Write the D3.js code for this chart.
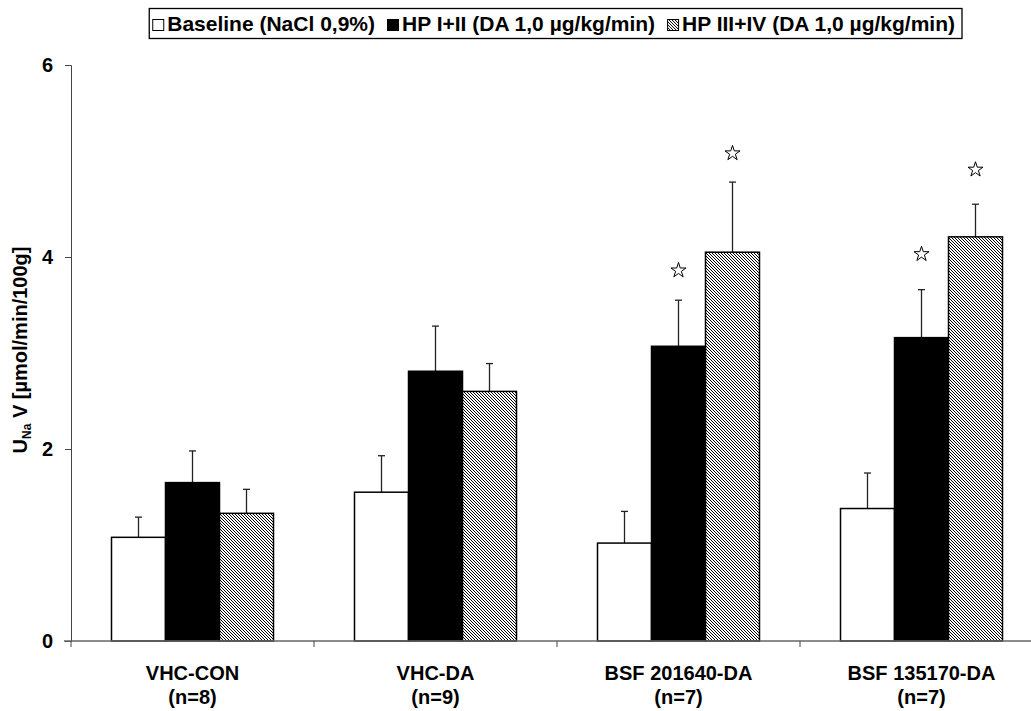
<!DOCTYPE html>
<html>
<head>
<meta charset="utf-8">
<script src="https://cdn.jsdelivr.net/npm/d3@7"></script>
<style>
  body { margin: 0; background: #fff; }
  text { font-family: "Liberation Sans", Arial, sans-serif; font-weight: bold; }
</style>
</head>
<body>
<svg id="chart" width="1031" height="711"></svg>
<script>
// data
const groups = ["VHC-CON", "VHC-DA", "BSF 201640-DA", "BSF 135170-DA"];
const groupN = ["(n=8)", "(n=9)", "(n=7)", "(n=7)"];
const seriesNames = ["Baseline (NaCl 0,9%)", "HP I+II (DA 1,0 µg/kg/min)", "HP III+IV (DA 1,0 µg/kg/min)"];
const baseline = [1.08, 1.55, 1.02, 1.38];
const hp12 = [1.65, 2.81, 3.07, 3.16];
const hp34 = [1.33, 2.60, 4.05, 4.21];
const errBaseline = [0.21, 0.38, 0.33, 0.37];
const errHp12 = [0.33, 0.47, 0.48, 0.50];
const errHp34 = [0.25, 0.29, 0.73, 0.34];
// significance stars: [group, series, y]
const stars = [[2, 1, 3.86], [2, 2, 5.08], [3, 1, 4.03], [3, 2, 4.91]];
const yTicks = [0, 2, 4, 6];

const FS = 20;

const svg = d3.select("#chart");
const defs = svg.append("defs");
const pat = defs.append("pattern")
  .attr("id", "hatch").attr("patternUnits", "userSpaceOnUse")
  .attr("width", 3).attr("height", 3);
pat.append("rect").attr("width", 3).attr("height", 3).attr("fill", "#fff");
[[0,0],[1,1],[2,2]].forEach(p => {
  pat.append("rect").attr("x", p[0]).attr("y", p[1]).attr("width", 1).attr("height", 1)
    .attr("fill", "#000").attr("shape-rendering", "crispEdges");
});

const fills = ["#fff", "#000", "url(#hatch)"];

const x = d3.scaleBand().domain(groups).range([71, 1043]);
const xs = d3.scaleBand().domain([0, 1, 2])
  .range([0, x.bandwidth()]).paddingOuter(0.75).paddingInner(0);
const y = d3.scaleLinear().domain([0, 6]).range([641, 65]);

const values = [baseline, hp12, hp34];
const errs = [errBaseline, errHp12, errHp34];

const rows = [];
groups.forEach((g, gi) => {
  values.forEach((v, si) => rows.push({g, si, v: v[gi], e: errs[si][gi]}));
});

const g = svg.append("g");
const cx = d => x(d.g) + xs(d.si) + xs.bandwidth() / 2;

// error bars (upper only)
const eb = g.selectAll(".err").data(rows).join("g").attr("class", "err");
eb.append("line")
  .attr("x1", cx).attr("x2", cx)
  .attr("y1", d => y(d.v)).attr("y2", d => y(d.v + d.e))
  .attr("stroke", "#222").attr("stroke-width", 1.3);
eb.append("line")
  .attr("x1", d => cx(d) - 3.5).attr("x2", d => cx(d) + 3.5)
  .attr("y1", d => y(d.v + d.e)).attr("y2", d => y(d.v + d.e))
  .attr("stroke", "#222").attr("stroke-width", 1.3);

g.selectAll(".bar").data(rows).join("rect")
  .attr("class", "bar")
  .attr("x", d => x(d.g) + xs(d.si))
  .attr("width", xs.bandwidth())
  .attr("y", d => y(d.v))
  .attr("height", d => y(0) - y(d.v))
  .attr("fill", d => fills[d.si])
  .attr("stroke", "#000").attr("stroke-width", 1.5);

// stars
g.selectAll(".star").data(stars).join("path")
  .attr("class", "star")
  .attr("transform", d => `translate(${x(groups[d[0]]) + xs(d[1]) + xs.bandwidth() / 2},${y(d[2])})`)
  .attr("d", d3.symbol(d3.symbolStar, 70))
  .attr("fill", "#fff").attr("stroke", "#000").attr("stroke-width", 1);

// axes
const yAxis = svg.append("g").attr("transform", "translate(71,0)")
  .call(d3.axisLeft(y).tickValues(yTicks).tickSize(6).tickPadding(12).tickFormat(d3.format("d")));
yAxis.select(".domain").attr("stroke", "#444");
yAxis.selectAll(".tick line").attr("stroke", "#444");
yAxis.selectAll("text").attr("font-size", FS).attr("fill", "#000");

const xAxis = svg.append("g").attr("transform", "translate(0,641)");
xAxis.append("line").attr("x1", 64).attr("x2", 1043).attr("stroke", "#666").attr("stroke-width", 1.5);
xAxis.selectAll(".xt").data(groups).join("line")
  .attr("x1", d => x(d)).attr("x2", d => x(d))
  .attr("y1", 0).attr("y2", 6).attr("stroke", "#444");
const xl = xAxis.selectAll(".xl").data(groups).join("text")
  .attr("text-anchor", "middle").attr("font-size", FS)
  .attr("x", d => x(d) + x.bandwidth() / 2);
xl.append("tspan").attr("y", 39).text(d => d);
xl.append("tspan").attr("x", d => x(d) + x.bandwidth() / 2).attr("y", 63)
  .text((d, i) => groupN[i]);

// y label
const yl = svg.append("text")
  .attr("transform", "translate(27,350) rotate(-90)")
  .attr("text-anchor", "middle").attr("font-size", FS);
yl.append("tspan").text("U");
yl.append("tspan").attr("font-size", 12).attr("dy", 4).text("Na");
yl.append("tspan").attr("dy", -4).text(" V [µmol/min/100g]");

// legend, laid out from measured text widths, right edge fixed
const leg = svg.append("g");
const box = leg.append("rect").attr("y", 8.5).attr("height", 30)
  .attr("fill", "#fff").attr("stroke", "#000").attr("stroke-width", 1.3);
const sq = 11, gapT = 4, gapI = 12, padL = 3, padR = 7;
const items = seriesNames.map((s, i) => {
  const it = leg.append("g");
  it.append("rect").attr("x", 0.5).attr("y", 19.5).attr("width", sq).attr("height", sq)
    .attr("fill", fills[i]).attr("stroke", "#000").attr("stroke-width", 1);
  const t = it.append("text").attr("x", sq + gapT).attr("y", 31).attr("font-size", 21).text(s);
  return {it, w: sq + gapT + t.node().getComputedTextLength()};
});
const total = d3.sum(items, d => d.w) + gapI * (items.length - 1) + padL + padR;
const right = 962;
let lx = right - total + padL;
box.attr("x", right - total).attr("width", total);
items.forEach(d => { d.it.attr("transform", `translate(${lx},0)`); lx += d.w + gapI; });
</script>
</body>
</html>
